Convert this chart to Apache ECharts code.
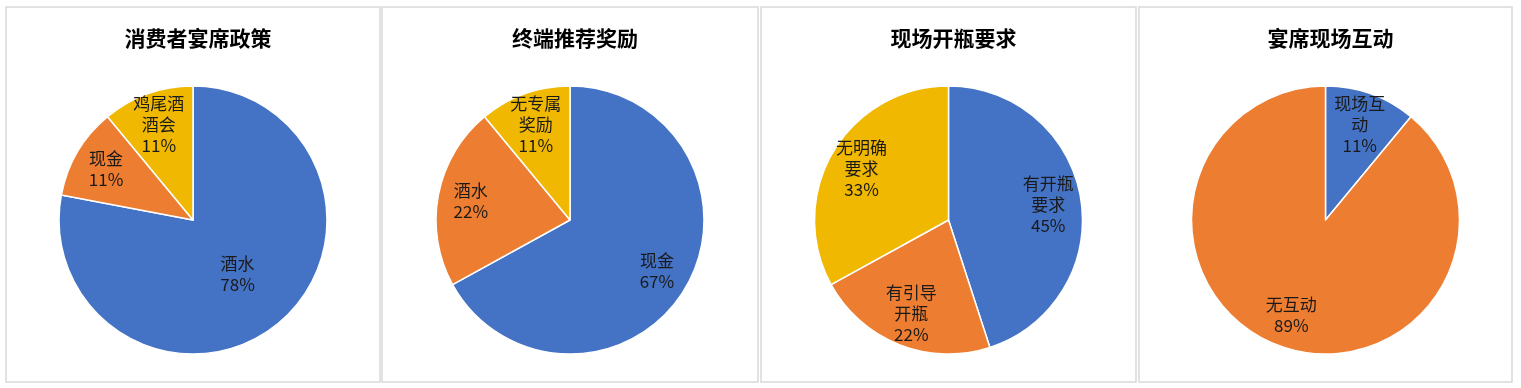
<!DOCTYPE html>
<html><head><meta charset="utf-8">
<script src="https://cdn.jsdelivr.net/npm/echarts@6/dist/echarts.min.js"></script>
<style>html,body{margin:0;padding:0;background:#fff}#c{width:1521px;height:388px}</style>
</head><body><div id="c"></div>
<script>
const titles = ['消费者宴席政策', '终端推荐奖励', '现场开瓶要求', '宴席现场互动'];
const names1 = ['酒水', '现金', '鸡尾酒酒会'];
const values1 = [78, 11, 11];
const names2 = ['现金', '酒水', '无专属奖励'];
const values2 = [67, 22, 11];
const names3 = ['有开瓶要求', '有引导开瓶', '无明确要求'];
const values3 = [45, 22, 33];
const names4 = ['现场互动', '无互动'];
const values4 = [11, 89];

const colors1 = ['#4472C4', '#ED7D31', '#F0B800'];
const colors4 = ['#4472C4', '#ED7D31'];

const panels = [
  {x0: 6, x1: 380, names: names1, values: values1, colors: colors1, innerLabel: [0]},
  {x0: 382, x1: 758, names: names2, values: values2, colors: colors1, innerLabel: []},
  {x0: 761, x1: 1136, names: names3, values: values3, colors: colors1, innerLabel: []},
  {x0: 1139, x1: 1512, names: names4, values: values4, colors: colors4, innerLabel: []}
];
const Y0 = 7, Y1 = 382, CY = 220, R = 134;

function wrap(s) { return s.match(/.{1,3}/g).join('\n'); }
const labelStyle = {
  fontFamily: '"Noto Sans CJK SC", "Noto Sans", sans-serif',
  fontSize: 17, lineHeight: 21, color: '#1a1a1a',
  formatter: p => wrap(p.name) + '\n' + p.percent + '%'
};

const series = [], title = [], graphic = [];
panels.forEach((p, i) => {
  const cx = (p.x0 + p.x1) / 2;
  graphic.push({type: 'rect', shape: {x: p.x0, y: Y0, width: p.x1 - p.x0, height: Y1 - Y0},
    style: {fill: 'none', stroke: '#D9D9D9', lineWidth: 1.5}, silent: true});
  title.push({text: titles[i], left: cx, top: 23, textAlign: 'center',
    textStyle: {fontFamily: '"Noto Sans CJK SC", sans-serif', fontWeight: 'bold', fontSize: 21, color: '#000'}});
  const main = p.names.map((n, k) => ({name: n, value: p.values[k],
    itemStyle: {color: p.colors[k]},
    label: {show: p.innerLabel.includes(k)}}));
  series.push({type: 'pie', center: [cx, CY], radius: [0, R], startAngle: 90, clockwise: true,
    animation: false, silent: true, avoidLabelOverlap: false,
    itemStyle: {borderColor: '#fff', borderWidth: 1.5},
    label: Object.assign({position: 'inside'}, labelStyle),
    labelLine: {show: false}, data: main});
  const lab = p.names.map((n, k) => ({name: n, value: p.values[k],
    label: {show: !p.innerLabel.includes(k)}}));
  series.push({type: 'pie', center: [cx, CY], radius: [62, R], startAngle: 90, clockwise: true,
    animation: false, silent: true, avoidLabelOverlap: false, z: 5,
    itemStyle: {color: 'rgba(0,0,0,0)', borderWidth: 0},
    label: Object.assign({position: 'inside'}, labelStyle),
    labelLine: {show: false}, data: lab});
});

const chart = echarts.init(document.getElementById('c'), null, {renderer: 'canvas'});
chart.setOption({animation: false, title, graphic, series});
</script></body></html>
